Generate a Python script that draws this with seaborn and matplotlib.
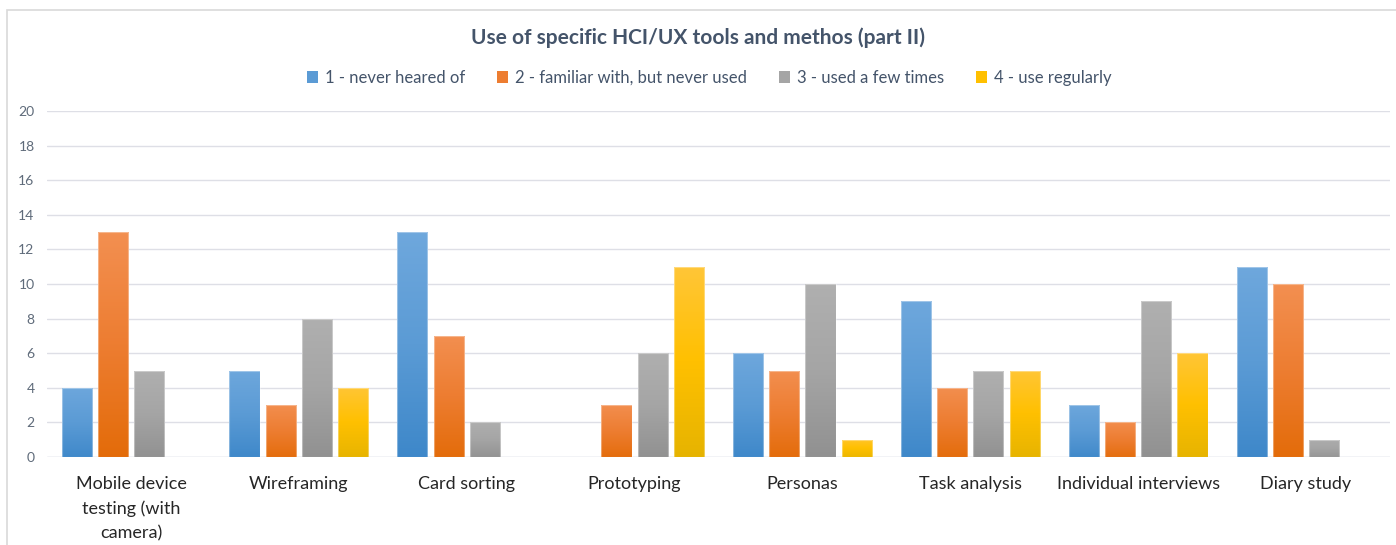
import numpy as np
import pandas as pd
import seaborn as sns
import matplotlib.pyplot as plt
from matplotlib.colors import LinearSegmentedColormap
from matplotlib.patches import Rectangle, Patch

## the data
categories = ["Mobile device\ntesting (with\ncamera)", "Wireframing", "Card sorting", "Prototyping",
              "Personas", "Task analysis", "Individual interviews", "Diary study"]
series = ["1 - never heared of", "2 - familiar with, but never used",
          "3 - used a few times", "4 - use regularly"]
never_heard = [4, 5, 13, 0, 6, 9, 3, 11]
familiar = [13, 3, 7, 3, 5, 4, 2, 10]
few_times = [5, 8, 2, 6, 10, 5, 9, 1]
regularly = [0, 4, 0, 11, 1, 5, 6, 0]

colors = ["#5B9BD5", "#ED7D31", "#A5A5A5", "#FFC000"]
tops = ["#6FA8DD", "#F39052", "#B0B0B0", "#FFC63A"]
bottoms = ["#3D87C9", "#E36B08", "#909090", "#E5B300"]

df = pd.DataFrame({
    "cat": categories * 4,
    "series": np.repeat(series, len(categories)),
    "value": never_heard + familiar + few_times + regularly,
})

sns.set_theme(style="white")
plt.rcParams['font.family'] = ['Lato', 'DejaVu Sans']

fig = plt.figure(figsize=(13.96, 5.45), dpi=100)
ax = fig.add_axes([47 / 1396, 1 - 457 / 545, 1343 / 1396, 346 / 545])

sns.barplot(data=df, x="cat", y="value", hue="series", palette=colors,
            width=0.862, gap=0.167, ax=ax, legend=False, errorbar=None)

## Excel-style vertical gradient on each bar, clipped to the bar itself
grad = np.linspace(0, 1, 256).reshape(-1, 1)
for i, p in enumerate(ax.patches):
    h = p.get_height()
    if h <= 0:
        p.set_visible(False)
        continue
    k = i // len(categories)
    cmap = LinearSegmentedColormap.from_list("g", [bottoms[k], colors[k], tops[k]])
    x0, w = p.get_x(), p.get_width()
    im = ax.imshow(grad, extent=[x0 - 0.01, x0 + w + 0.01, -0.2, h + 0.2], origin="lower",
                   aspect="auto", cmap=cmap, zorder=2, interpolation="bilinear")
    p.set_facecolor("none")
    p.set_edgecolor((1, 1, 1, 0.35))
    p.set_linewidth(0.8)
    p.set_zorder(3)
    im.set_clip_path(p)

ax.set_xlim(-0.5, 7.5)
ax.set_ylim(0, 20)
ax.set_yticks(range(0, 21, 2))
ax.yaxis.grid(True, color="#DEDFE6", linewidth=1)
ax.set_axisbelow(True)
for s in ax.spines.values():
    s.set_visible(False)
ax.axhline(0, color="#DEDFE6", linewidth=1, zorder=1)
ax.set_xlabel("")
ax.set_ylabel("")
ax.tick_params(axis="y", length=0, pad=9, labelsize=10, labelcolor="#5F6B7A")
ax.tick_params(axis="x", length=0, pad=14, labelsize=13, labelcolor="#262626")
for lab in ax.get_xticklabels():
    lab.set_verticalalignment("top")
    lab.set_linespacing(1.6)

fig.text(0.5, 1 - 38 / 545, "Use of specific HCI/UX tools and methos (part II)",
         ha="center", va="center", fontsize=15, fontweight="bold", color="#44546A")

handles = [Patch(facecolor=c, edgecolor="none") for c in colors]
fig.legend(handles, series, loc="center", bbox_to_anchor=(0.508, 1 - 78 / 545), ncol=4,
           frameon=False, fontsize=12, handlelength=0.7, handleheight=0.7,
           handletextpad=0.4, columnspacing=1.9, labelcolor="#44546A")

## chart border (Excel chart area)
fig.patches.append(Rectangle((7 / 1396, -0.1), 1.2, 1 - 10 / 545 + 0.1,
                             transform=fig.transFigure, fill=False,
                             edgecolor="#D9D9D9", linewidth=1.2))

fig.savefig("out.png", dpi=100, facecolor="white")
